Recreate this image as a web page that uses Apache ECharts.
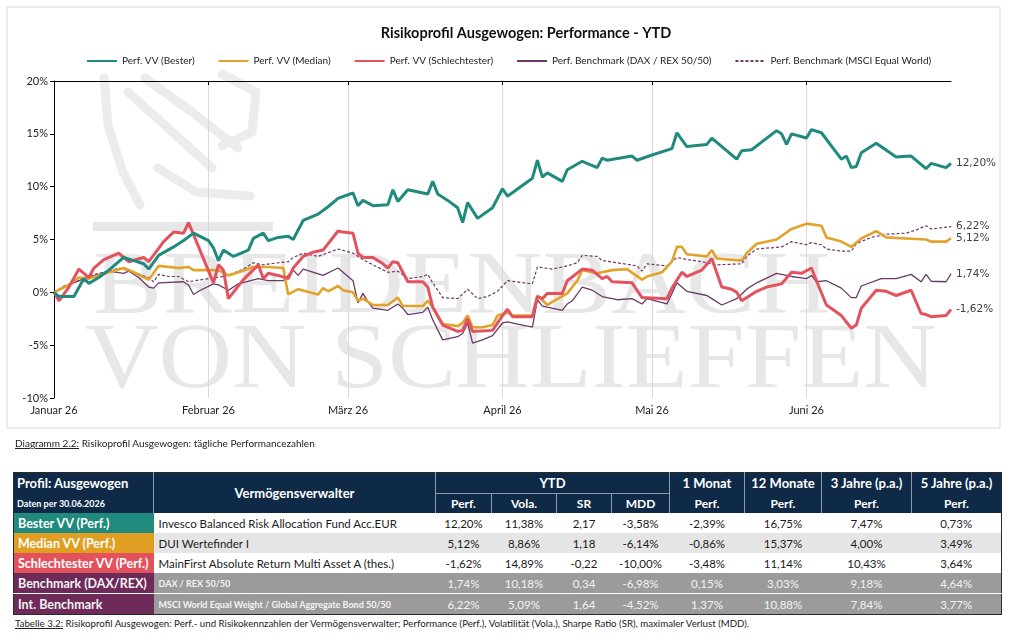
<!DOCTYPE html>
<html><head><meta charset="utf-8">
<script src="https://cdn.jsdelivr.net/npm/echarts@6/dist/echarts.min.js"></script>
<style>
body{margin:0;width:1024px;height:636px;background:#fff;font-family:Lato,'Open Sans',sans-serif;overflow:hidden;position:relative}
#chart{position:absolute;left:0;top:0;width:1024px;height:440px}
.cap{position:absolute;left:15px;font-size:10px;line-height:12px;color:#222;white-space:nowrap}
.cap u{text-decoration:underline}
#t{position:absolute;left:13px;top:472px;width:988px;border-collapse:collapse;table-layout:fixed;font-family:Lato,sans-serif;border:1px solid #2a2a2a}
#t th{background:#0f2a46;color:#fff;font-weight:700;padding:0;border-left:1px solid #8d9aab;white-space:nowrap;overflow:hidden;text-align:center}
#t tr.h1 th{height:20px;font-size:13px}
#t tr.h2 th{height:19px;font-size:12px}
#t th.prof{text-align:left;padding-left:3px;font-size:15px;border-left:none}
#t tr.h2 th.date{font-size:9px;text-align:left;padding-left:3px;border-left:none}
#t th.vv{font-size:14.5px}
#t th.ytd{border-bottom:1px solid #8d9aab}
#t td{height:20px;padding:0;text-align:center;font-size:11.5px;color:#1a1a1a;white-space:nowrap;overflow:hidden}
#t td.lab{text-align:left;padding-left:4px;color:#fff;font-weight:700;font-size:12.5px}
#t td.nm{text-align:left;padding-left:5px}
#t tr.g td{color:#f3f3f3}
#t tr.g td.nm{font-weight:700;font-size:9px}
#t tr.sep td{border-top:1px solid #fff}
</style></head>
<body>
<div id="chart"></div>
<div class="cap" style="top:437px"><u>Diagramm 2.2:</u> Risikoprofil Ausgewogen: tägliche Performancezahlen</div>
<table id="t"></table>
<div class="cap" style="top:617px;font-size:9.7px"><u>Tabelle 3.2:</u> Risikoprofil Ausgewogen: Perf.- und Risikokennzahlen der Vermögensverwalter; Performance (Perf.), Volatilität (Vola.), Sharpe Ratio (SR), maximaler Verlust (MDD).</div>
<script>
// ---- chart data ----
const monthNames = ['Januar 26','Februar 26','März 26','April 26','Mai 26','Juni 26'];
const monthLengths = [31,28,31,30,31,30];
const seriesNames = ['Perf. VV (Bester)','Perf. VV (Median)','Perf. VV (Schlechtester)','Perf. Benchmark (DAX / REX 50/50)','Perf. Benchmark (MSCI Equal World)'];

const bestDays = [0,1,4,6,7,9,11,14,16,18,19,21,24,26,28,31,32,33,34,36,39,40,42,43,45,47,48,50,53,55,57,60,61,62,64,67,68,69,71,75,76,77,79,81,82,83,85,88,90,91,96,97,98,99,102,103,106,109,110,111,116,117,120,124,125,127,131,132,137,138,140,145,146,147,148,151,152,154,158,159,160,161,162,165,169,172,175,176,179,180];
const bestVals = [0,-0.4,-0.4,1.3,0.85,1.4,2.1,3.3,3.0,2.7,2.2,3.5,4.3,4.9,5.6,4.9,4.2,3.0,4.0,3.4,4.0,5.1,5.6,4.9,5.2,5.3,5.0,6.8,7.4,8.1,8.9,9.4,8.2,8.7,8.2,8.3,9.7,8.6,9.7,9.3,10.5,9.3,8.7,8.0,6.6,8.5,7.0,8.0,9.8,9.1,10.8,12.5,10.9,11.3,10.5,11.6,12.4,11.8,12.7,12.5,12.9,12.5,13.0,13.6,15.1,13.8,14.0,14.6,12.6,13.4,13.5,15.3,15.0,14.0,15.0,14.6,15.4,15.1,12.6,12.9,11.8,11.9,13.2,14.1,12.8,12.9,11.7,12.2,11.8,12.2];

const medianDays = [0,3,5,7,9,11,14,16,19,21,25,27,28,33,35,37,40,43,46,47,49,53,54,55,57,58,60,61,62,64,67,69,70,74,75,76,78,81,82,83,84,86,88,89,91,92,96,97,99,100,103,105,106,109,112,115,118,119,122,124,125,126,127,131,132,133,138,139,141,145,148,151,154,155,158,160,162,165,167,171,175,176,179,180];
const medianVals = [0,0.7,1.4,1.3,1.6,1.9,2.3,1.9,1.2,2.5,2.3,2.4,2.1,2.1,1.6,1.9,2.4,2.4,2.3,-0.2,0.3,-0.2,0.4,0.1,0.6,0.2,0.0,-0.8,-0.6,-1.2,-1.2,-0.5,-1.3,-1.3,-0.8,-1.4,-3.0,-3.2,-2.9,-2.2,-3.3,-3.3,-3.1,-2.2,-1.9,-2.2,-2.2,-0.3,-1.2,-0.9,-0.1,1.1,2.1,1.8,2.1,2.2,1.2,1.5,1.9,2.9,4.3,4.3,3.6,3.4,4.0,3.2,3.0,3.7,4.6,5.0,6.0,6.5,6.3,5.2,4.8,4.3,5.1,5.8,5.2,5.1,5.0,4.8,4.8,5.12];

const worstDays = [0,1,3,5,7,8,10,13,15,18,19,22,24,26,27,32,33,34,35,38,41,42,43,45,47,48,50,52,54,57,58,60,61,62,64,66,67,68,69,71,74,75,76,78,81,82,83,84,88,90,91,92,96,97,98,99,102,103,106,108,110,111,112,116,117,118,123,124,126,127,130,132,134,136,137,138,141,143,146,148,150,152,153,155,158,160,161,162,165,167,169,172,174,175,176,179,180];
const worstVals = [0,-0.8,0.5,2.2,1.4,2.3,3.1,3.7,2.9,3.3,2.9,4.8,5.7,5.6,6.6,0.9,2.6,2.1,-0.6,1.2,2.6,1.3,1.8,1.6,1.3,2.3,3.4,3.8,4.0,5.8,5.7,5.6,3.7,3.3,3.3,2.7,2.3,2.9,2.8,1.0,1.0,0.5,-1.4,-3.1,-3.7,-3.6,-2.5,-3.7,-3.6,-2.2,-1.6,-2.3,-2.3,-0.4,-0.6,-0.1,-0.1,1.1,2.2,2.1,1.3,1.5,1.0,0.9,0.2,-0.5,-0.6,0.4,1.9,1.5,2.1,3.2,0.5,0.3,0.0,-0.8,0.1,0.5,0.8,1.9,1.8,2.3,1.1,-1.2,-2.2,-3.4,-3.1,-1.5,0.2,0.1,-0.3,0.2,-2.0,-2.1,-2.3,-2.2,-1.62];

const daxDays = [0,3,6,9,11,14,15,17,19,20,21,26,27,28,29,32,33,35,37,41,43,46,48,49,50,54,57,60,61,62,63,64,67,69,70,71,74,75,76,78,81,82,83,84,86,88,90,91,93,96,97,98,102,103,104,106,108,110,113,116,118,119,123,124,125,127,131,132,134,137,139,141,145,148,151,152,153,155,158,160,161,162,166,169,172,174,175,176,179,180];
const daxVals = [0,0.7,1.3,1.7,2.0,1.8,2.0,1.4,0.5,0.4,0.9,1.0,0.7,-0.2,0.1,0.8,0.7,0.2,0.8,1.3,1.1,1.1,2.1,1.6,2.2,1.6,2.3,1.1,-1.0,-0.1,-0.9,-1.5,-1.7,-1.1,-1.5,-2.1,-1.9,-1.4,-2.6,-4.5,-4.2,-3.9,-2.9,-4.8,-4.5,-4.1,-2.9,-2.8,-3.0,-3.3,-0.7,-1.3,-1.7,-1.1,-0.8,0.5,0.2,-0.4,-0.7,-0.6,-1.1,-0.6,-1.1,-0.1,0.9,0.1,-0.3,-0.6,-1.2,-0.6,0.3,0.9,1.8,1.5,1.3,1.6,1.0,1.1,0.4,-0.5,-0.5,0.6,1.3,1.3,1.7,1.0,1.7,1.05,1.0,1.74];

const msciDays = [0,2,5,6,9,11,13,16,19,20,21,23,25,27,31,34,36,38,40,42,45,47,48,50,52,53,57,60,62,64,67,69,71,74,75,76,78,81,83,85,87,89,91,96,97,100,103,105,106,109,110,113,117,118,119,123,125,127,130,133,138,139,141,146,148,151,152,154,155,158,160,161,164,167,171,173,175,176,180];
const msciVals = [0,0.6,1.1,1.4,1.8,2.0,2.3,1.9,1.4,1.0,1.7,1.5,1.5,1.0,1.3,1.5,1.8,2.2,2.8,2.6,2.8,2.9,3.3,3.7,3.5,3.4,4.1,3.7,3.1,2.6,1.9,2.0,1.3,1.5,1.7,0.9,-0.5,-0.6,0.3,-0.6,-0.4,0.1,1.1,0.8,2.4,2.2,2.5,2.8,3.5,3.4,3.0,2.8,2.5,2.0,2.7,2.5,3.3,3.1,2.9,2.6,2.7,3.4,4.1,4.3,4.8,4.5,4.7,4.5,4.1,3.9,3.9,4.6,5.2,5.5,5.6,5.9,6.3,6.0,6.22];

// ---- table data ----
const rowLabels = ['Bester VV (Perf.)','Median VV (Perf.)','Schlechtester VV (Perf.)','Benchmark (DAX/REX)','Int. Benchmark'];
const managers = ['Invesco Balanced Risk Allocation Fund Acc.EUR','DUI Wertefinder I','MainFirst Absolute Return Multi Asset A (thes.)','DAX / REX 50/50','MSCI World Equal Weight / Global Aggregate Bond 50/50'];
const ytdPerf = ['12,20%','5,12%','-1,62%','1,74%','6,22%'];
const ytdVola = ['11,38%','8,86%','14,89%','10,18%','5,09%'];
const ytdSR = ['2,17','1,18','-0,22','0,34','1,64'];
const ytdMDD = ['-3,58%','-6,14%','-10,00%','-6,98%','-4,52%'];
const perf1M = ['-2,39%','-0,86%','-3,48%','0,15%','1,37%'];
const perf12M = ['16,75%','15,37%','11,14%','3,03%','10,88%'];
const perf3Y = ['7,47%','4,00%','10,43%','9,18%','7,84%'];
const perf5Y = ['0,73%','3,49%','3,64%','4,64%','3,77%'];

// ---- build axis categories (calendar days) ----
const monthStarts = [];
const dayCats = [];
let acc = 0;
monthLengths.forEach((len, m) => {
  monthStarts.push(acc);
  for (let d = 1; d <= len; d++) dayCats.push('2026-' + String(m + 1).padStart(2, '0') + '-' + String(d).padStart(2, '0'));
  acc += len;
});

const colors = ['#1f8a7d','#e3a22a','#e4535d','#6b3a68','#6b3a68'];
const widths = [3, 2.6, 3, 1.3, 1.2];
const daysList = [bestDays, medianDays, worstDays, daxDays, msciDays];
const valsList = [bestVals, medianVals, worstVals, daxVals, msciVals];

function fmt(v){ return v.toFixed(2).replace('.', ',') + '%'; }

const series = seriesNames.map((name, k) => ({
  name, type: 'line', xAxisIndex: 0, yAxisIndex: 0,
  data: daysList[k].map((d, i) => [d, valsList[k][i]]),
  symbol: 'none', smooth: false, z: [5,3,4,2,2][k],
  lineStyle: { color: colors[k], width: widths[k], type: k === 4 ? [3, 2] : 'solid' },
  itemStyle: { color: colors[k] },
  endLabel: { show: true, distance: 5, color: '#404040', fontSize: 10.5, fontFamily: 'DejaVu Sans',
    formatter: () => fmt(valsList[k][valsList[k].length - 1]) },
  emphasis: { disabled: true }
}));

// watermark sizing
const cv = document.createElement('canvas').getContext('2d');
function fitScale(text, font, target){ cv.font = font; return target / cv.measureText(text).width; }
const wmFont1 = '88px "Liberation Serif"';
const wmFont2 = '94px "Liberation Serif"';
const wmColor = '#e7e7e7';
const lionStroke = { stroke: '#ececec', lineWidth: 9, fill: 'none', lineCap: 'round', lineJoin: 'round' };

const chart = echarts.init(document.getElementById('chart'), null, { renderer: 'canvas' });
chart.setOption({
  animation: false,
  backgroundColor: '#fff',
  textStyle: { fontFamily: 'Lato' },
  title: { text: 'Risikoprofil Ausgewogen: Performance - YTD', left: 521, top: 21, textAlign: 'center',
    textStyle: { fontSize: 14.5, fontWeight: 'bold', color: '#111', fontFamily: 'Lato' } },
  legend: { top: 51, left: 81, itemWidth: 30, itemHeight: 10, itemGap: 23,
    itemStyle: { opacity: 0, borderWidth: 0 },
    textStyle: { fontSize: 10, color: '#222', fontFamily: 'Lato' }, data: seriesNames },
  graphic: [
    { type: 'rect', z: -10, silent: true, shape: { x: 7, y: 7, width: 993, height: 421 }, style: { fill: 'none', stroke: '#d9d9d9', lineWidth: 1 } },
    { type: 'polyline', z: -10, silent: true, shape: { points: [[104,78],[108,125],[122,170],[140,205]] }, style: lionStroke },
    { type: 'polyline', z: -10, silent: true, shape: { points: [[128,92],[170,130],[212,168]] }, style: lionStroke },
    { type: 'polyline', z: -10, silent: true, shape: { points: [[145,78],[192,112],[238,148]] }, style: lionStroke },
    { type: 'polyline', z: -10, silent: true, shape: { points: [[222,74],[256,92],[252,132],[222,146]] }, style: lionStroke },
    { type: 'polyline', z: -10, silent: true, shape: { points: [[158,168],[196,192],[250,196]] }, style: lionStroke },
    { type: 'rect', z: -10, silent: true, shape: { x: 93, y: 222, width: 180, height: 9 }, style: { fill: wmColor } },
    { type: 'text', z: -10, silent: true, x: 93, y: 289, scaleX: fitScale('BREIDENBACH', wmFont1, 737),
      style: { text: 'BREIDENBACH', font: wmFont1, fill: wmColor, verticalAlign: 'middle', align: 'left' } },
    { type: 'text', z: -10, silent: true, x: 85, y: 362, scaleX: fitScale('VON SCHLIEFFEN', wmFont2, 852),
      style: { text: 'VON SCHLIEFFEN', font: wmFont2, fill: wmColor, verticalAlign: 'middle', align: 'left' } }
  ],
  grid: { left: 54, right: 73, top: 81, bottom: 42, containLabel: false },
  xAxis: [{
    type: 'category', data: dayCats, boundaryGap: false,
    axisLine: { show: false }, axisTick: { show: false },
    axisLabel: { interval: (i) => monthStarts.includes(i), formatter: (v, i) => monthNames[monthStarts.indexOf(i)] || '',
      margin: 7, fontSize: 11, color: '#222', fontFamily: 'Lato', hideOverlap: false },
    splitLine: { show: true, interval: (i) => i > 0 && monthStarts.includes(i), lineStyle: { color: '#d9d9d9', width: 1 } }
  }, {
    type: 'category', data: dayCats, boundaryGap: false, position: 'top',
    axisLine: { show: true, onZero: true, lineStyle: { color: '#000', width: 1 } },
    axisTick: { show: true, inside: true, length: 4, interval: (i) => i > 0 && monthStarts.includes(i), lineStyle: { color: '#000' } },
    axisLabel: { show: false }, splitLine: { show: false }
  }],
  yAxis: {
    type: 'value', min: -10, max: 20, interval: 5,
    axisLine: { show: true, lineStyle: { color: '#000', width: 1 } },
    axisTick: { show: true, length: 4, lineStyle: { color: '#000' } },
    axisLabel: { formatter: '{value}%', fontSize: 11, color: '#222', margin: 6, fontFamily: 'Lato' },
    splitLine: { show: false }
  },
  series
});

// ---- table ----
const labelColors = ['#1f8a7d','#e09f22','#e3525c','#6e2a58','#6e2a58'];
const rowBg = ['#ffffff','#e5e5e5','#ffffff','#9b9b9b','#9b9b9b'];
const colW = [140,282,56,65,55,58,75,77,90,90];
let html = '<colgroup>' + colW.map(w => '<col style="width:' + w + 'px">').join('') + '</colgroup>';
html += '<tr class="h1"><th class="prof">Profil: Ausgewogen</th><th class="vv" rowspan="2">Vermögensverwalter</th>' +
  '<th class="ytd" colspan="4">YTD</th><th>1 Monat</th><th>12 Monate</th><th>3 Jahre (p.a.)</th><th>5 Jahre (p.a.)</th></tr>';
html += '<tr class="h2"><th class="date">Daten per 30.06.2026</th><th>Perf.</th><th>Vola.</th><th>SR</th><th>MDD</th><th>Perf.</th><th>Perf.</th><th>Perf.</th><th>Perf.</th></tr>';
rowLabels.forEach((lab, r) => {
  const cls = (r >= 3 ? 'g' : '') + (r === 4 ? ' sep' : '');
  const vals = [ytdPerf[r], ytdVola[r], ytdSR[r], ytdMDD[r], perf1M[r], perf12M[r], perf3Y[r], perf5Y[r]];
  html += '<tr class="' + cls + '" style="background:' + rowBg[r] + '"><td class="lab" style="background:' + labelColors[r] + '">' + lab +
    '</td><td class="nm">' + managers[r] + '</td>' + vals.map(v => '<td>' + v + '</td>').join('') + '</tr>';
});
document.getElementById('t').innerHTML = html;
</script>
</body></html>
